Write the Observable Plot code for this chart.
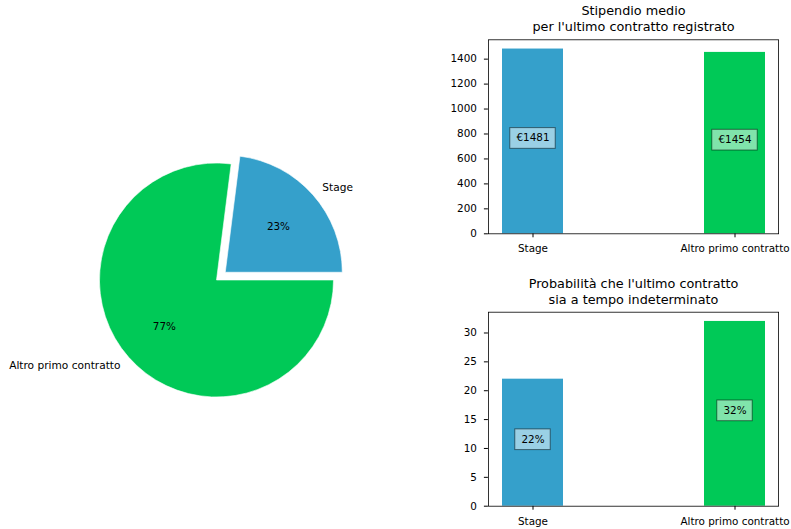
<!DOCTYPE html>
<html><head><meta charset="utf-8">
<script src="https://cdn.jsdelivr.net/npm/d3@7"></script>
<script src="https://cdn.jsdelivr.net/npm/@observablehq/plot@0.6"></script>
<style>
body{margin:0;background:#fff;}
#root{position:relative;width:791px;height:529px;overflow:hidden;font-family:"DejaVu Sans",sans-serif;background:#fff;}
#root svg{position:absolute;overflow:visible;}
</style></head><body><div id="root"></div>
<script>
// ---- data ----
const categories = ["Stage", "Altro primo contratto"];
const colors = ["#35A0CB", "#00C957"];
const pieShares = [23, 77];
const pieExplode = [0.1, 0];
const salaryValues = [1481, 1454];
const salaryLabels = ["€1481", "€1454"];
const salaryTicks = [0, 200, 400, 600, 800, 1000, 1200, 1400];
const salaryTitle = "Stipendio medio\nper l'ultimo contratto registrato";
const permanentValues = [22, 32];
const permanentLabels = ["22%", "32%"];
const permanentTicks = [0, 5, 10, 15, 20, 25, 30];
const permanentTitle = "Probabilità che l'ultimo contratto\nsia a tempo indeterminato";

const root = document.getElementById("root");
const baseStyle = {fontFamily: "DejaVu Sans", fontSize: "10.4px", color: "black", background: "transparent", overflow: "visible"};

// ---- pie ----
const total = d3.sum(pieShares);
let acc = 0;
const slices = categories.map((c, i) => {
  const a0 = acc / total * 2 * Math.PI;
  acc += pieShares[i];
  const a1 = acc / total * 2 * Math.PI;
  const mid = (a0 + a1) / 2;
  const ex = pieExplode[i];
  return {
    cat: c, share: pieShares[i], color: colors[i], a0, a1, mid, ex,
    lx: (ex + 1.1) * Math.cos(mid), ly: (ex + 1.1) * Math.sin(mid),
    px: (ex + 0.6) * Math.cos(mid), py: (ex + 0.6) * Math.sin(mid)
  };
});

function pieSlices(index, scales) {
  const x = scales.x, y = scales.y;
  const r = Math.abs(x(1) - x(0));
  const g = d3.create("svg:g");
  for (const s of slices) {
    const ox = x(s.ex * Math.cos(s.mid)), oy = y(s.ex * Math.sin(s.mid));
    g.append("path")
      .attr("transform", `translate(${ox},${oy})`)
      .attr("d", d3.arc()({innerRadius: 0, outerRadius: r, startAngle: Math.PI / 2 - s.a1, endAngle: Math.PI / 2 - s.a0}))
      .attr("fill", s.color)
      .attr("stroke", "white")
      .attr("stroke-width", 0.6);
  }
  return g.node();
}

const pie = Plot.plot({
  width: 440, height: 529,
  marginLeft: 99.5, marginRight: 106.5, marginTop: 163, marginBottom: 132,
  style: baseStyle,
  x: {domain: [-1, 1], axis: null},
  y: {domain: [-1, 1], axis: null},
  marks: [
    pieSlices,
    Plot.text(slices.filter(d => d.lx > 0), {x: "lx", y: "ly", text: "cat", textAnchor: "start", fill: "black", fontSize: 10.6}),
    Plot.text(slices.filter(d => d.lx <= 0), {x: "lx", y: "ly", text: "cat", textAnchor: "end", fill: "black", fontSize: 10.6}),
    Plot.text(slices, {x: "px", y: "py", text: d => d.share + "%", fill: "black", fontSize: 10.4})
  ]
});
pie.style.left = "0px"; pie.style.top = "0px";
root.appendChild(pie);

// ---- bar charts ----
function barChart({values, labels, ticks, title, height, marginTop, marginBottom, insetX}) {
  const data = categories.map((c, i) => ({cat: c, value: values[i], label: labels[i], color: colors[i]}));
  return Plot.plot({
    width: 351, height,
    marginLeft: 47.9, marginRight: 12.9, marginTop, marginBottom,
    style: baseStyle,
    color: {type: "identity"},
    x: {domain: categories, paddingInner: 0.7, paddingOuter: 0.065, label: null, tickSize: 4, tickPadding: 7},
    y: {domain: [0, d3.max(values) * 1.05], ticks, tickFormat: d3.format("d"), label: null, tickSize: 4, tickPadding: 7.5},
    marks: [
      Plot.barY(data, {x: "cat", y: "value", fill: "color"}),
      Plot.barY(data, {x: "cat", y1: d => d.value / 2, y2: d => d.value / 2,
        insetTop: -13.3, insetBottom: -7.4, insetLeft: insetX, insetRight: insetX,
        fill: "white", fillOpacity: 0.5, stroke: "black", strokeOpacity: 0.5, strokeWidth: 1}),
      Plot.text(data, {x: "cat", y: d => d.value / 2, text: "label", lineAnchor: "bottom", fill: "black", fontSize: 10.4}),
      Plot.text([title], {frameAnchor: "top", text: d => d, lineAnchor: "bottom", dy: -8.6, fontSize: 12.8, lineHeight: 1.23, fill: "black"}),
      Plot.frame({stroke: "black", strokeWidth: 0.8})
    ]
  });
}

const bar1 = barChart({values: salaryValues, labels: salaryLabels, ticks: salaryTicks, title: salaryTitle,
  height: 264, marginTop: 39.3, marginBottom: 30.7, insetX: 7.8});
bar1.style.left = "440px"; bar1.style.top = "0px";
root.appendChild(bar1);

const bar2 = barChart({values: permanentValues, labels: permanentLabels, ticks: permanentTicks, title: permanentTitle,
  height: 265, marginTop: 47.7, marginBottom: 23.3, insetX: 12.8});
bar2.style.left = "440px"; bar2.style.top = "264px";
root.appendChild(bar2);
</script>
</body></html>
